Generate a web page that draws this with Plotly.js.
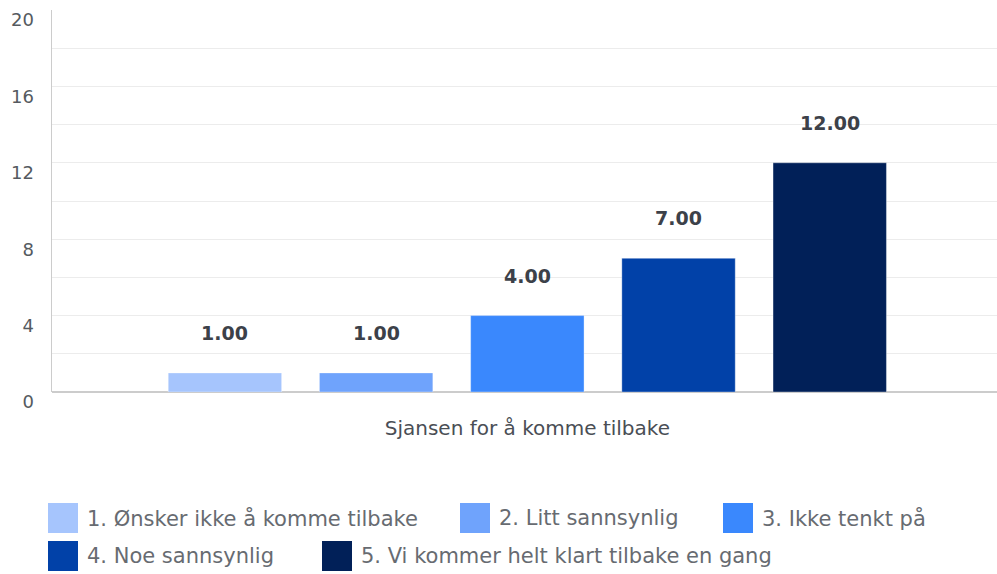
<!DOCTYPE html>
<html>
<head>
<meta charset="utf-8">
<script src="https://cdn.plot.ly/plotly-3.0.1.min.js"></script>
<style>html,body{margin:0;padding:0;background:#fff}#chart{width:997px;height:574px}</style>
</head>
<body>
<div id="chart"></div>
<script>
const category = ['Sjansen for å komme tilbake'];
const seriesNames = ['1. Ønsker ikke å komme tilbake', '2. Litt sannsynlig', '3. Ikke tenkt på', '4. Noe sannsynlig', '5. Vi kommer helt klart tilbake en gang'];
const seriesValues = [1, 1, 4, 7, 12];
const seriesColors = ['#a6c5fd', '#6fa3fc', '#3a88fd', '#0141a8', '#012058'];
const yTicks = [0, 4, 8, 12, 16, 20];

const FONT = '"DejaVu Sans", Verdana, sans-serif';
const bargap = 0.2, bargroupgap = 0.25;

const traces = seriesNames.map((n, i) => ({
  type: 'bar', name: n, x: category, y: [seriesValues[i]],
  marker: {color: seriesColors[i], line: {color: 'rgba(255,255,255,0.35)', width: 1}},
  hoverinfo: 'none', showlegend: false
}));

const nS = seriesValues.length;
const slot = (1 - bargap) / nS;
const annotations = seriesValues.map((v, i) => ({
  x: -(1 - bargap) / 2 + slot * (i + 0.5), y: v, xref: 'x', yref: 'y',
  text: '<b>' + v.toFixed(2) + '</b>', showarrow: false, yshift: 40,
  font: {family: FONT, size: 19, color: '#3c4149'}
}));

// custom legend (plot area: pixel y 10..392)
const pyToPaper = py => (392 - py) / 382;
const pxToPaper = px => (px - 52) / 945;
const legendPos = [[48, 518], [460, 518], [723, 518], [48, 556], [322, 556]];
const shapes = [{type: 'line', xref: 'paper', yref: 'y', x0: 0.002, x1: 1, y0: yTicks[yTicks.length - 1], y1: yTicks[yTicks.length - 1],
  line: {color: '#ffffff', width: 2}, layer: 'below'}];
seriesNames.forEach((n, i) => {
  const [lx, ly] = legendPos[i];
  shapes.push({type: 'rect', xref: 'paper', yref: 'paper',
    x0: pxToPaper(lx), x1: pxToPaper(lx + 30), y0: pyToPaper(ly + 15), y1: pyToPaper(ly - 15),
    fillcolor: seriesColors[i], line: {width: 0}, layer: 'above'});
  annotations.push({xref: 'paper', yref: 'paper', x: pxToPaper(lx + 37), y: pyToPaper(ly),
    xanchor: 'left', yanchor: 'middle', showarrow: false, text: n,
    font: {family: FONT, size: 21, color: '#676b71'}});
});

const layout = {
  width: 997, height: 574,
  margin: {l: 52, r: 0, t: 10, b: 182},
  paper_bgcolor: '#fff', plot_bgcolor: '#fff',
  barmode: 'group', bargap: bargap, bargroupgap: bargroupgap,
  showlegend: false,
  xaxis: {type: 'category', range: [-0.503, 0.497], showgrid: false, zeroline: false, showline: false, ticks: '',
    tickfont: {family: FONT, size: 20, color: '#4a4e55'}, ticklabelstandoff: 22},
  yaxis: {range: [0, 20], tickvals: yTicks, ticktext: yTicks.map(String),
    showgrid: true, gridcolor: '#ececec', gridwidth: 1,
    minor: {dtick: 2, showgrid: true, gridcolor: '#ececec', gridwidth: 1},
    zeroline: true, zerolinecolor: '#cccccc', zerolinewidth: 1.5,
    showline: true, linecolor: '#cccccc', linewidth: 1.5, ticks: '',
    ticklabelshift: 10, ticklabelstandoff: 13,
    tickfont: {family: FONT, size: 18, color: '#555a60'}},
  annotations: annotations, shapes: shapes
};

Plotly.newPlot('chart', traces, layout, {displayModeBar: false, staticPlot: true});
</script>
</body>
</html>
